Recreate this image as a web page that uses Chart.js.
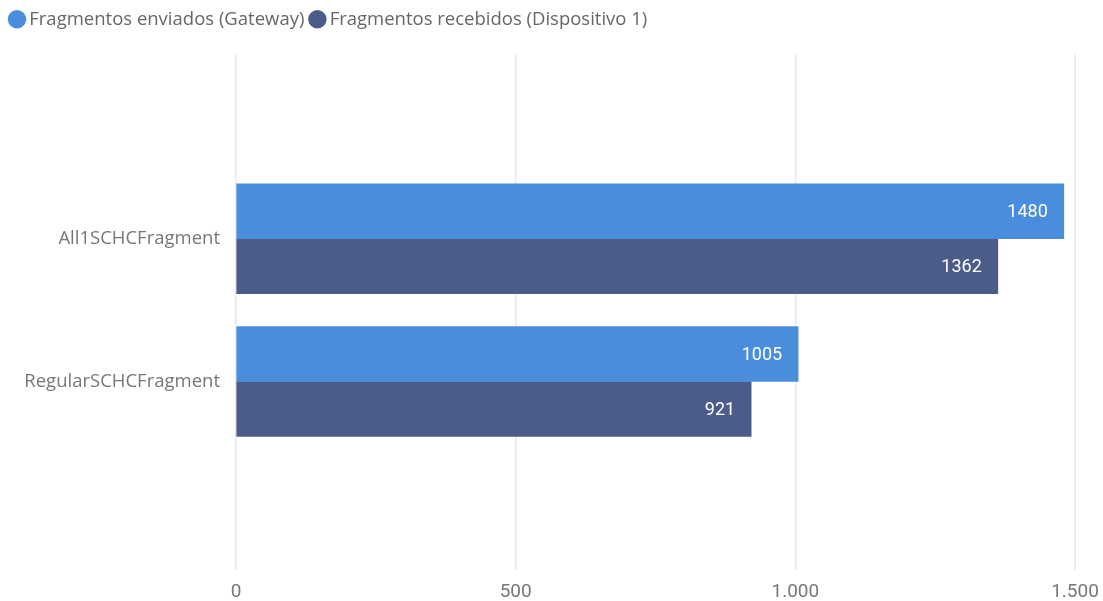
<!DOCTYPE html>
<html lang="pt">
<head>
    <meta charset="UTF-8">
    <title>Fragmentos SCHC</title>
    <script src="https://cdn.jsdelivr.net/npm/chart.js"></script>
    <style>
        html, body { margin: 0; padding: 0; background: #fff; }
        #wrap { width: 1103px; height: 601px; }
    </style>
</head>
<body>
    <div id="wrap"><canvas id="fragChart"></canvas></div>

    <script>
        // Data
        const categories = ['All1SCHCFragment', 'RegularSCHCFragment'];
        const seriesNames = ['Fragmentos enviados (Gateway)', 'Fragmentos recebidos (Dispositivo 1)'];
        const sentValues = [1480, 1005];
        const receivedValues = [1362, 921];
        const xTicks = [0, 500, 1000, 1500];

        const colors = ['#4A8DDC', '#4B5C88'];

        // thousands with a dot, like pt-BR
        function fmt(v) {
            return String(v).replace(/\B(?=(\d{3})+(?!\d))/g, '.');
        }

        // category index -> point on a linear index axis
        function toPoints(values) {
            return values.map((v, i) => ({ x: v, y: i }));
        }

        // push the plot down below the legend
        const legendGap = {
            id: 'legendGap',
            beforeInit(chart) {
                const origFit = chart.legend.fit;
                chart.legend.fit = function () {
                    origFit.bind(chart.legend)();
                    this.height += 16;
                };
            }
        };

        // white value labels at the end of each bar
        const barValues = {
            id: 'barValues',
            afterDatasetsDraw(chart) {
                const ctx = chart.ctx;
                ctx.save();
                ctx.fillStyle = '#ffffff';
                ctx.font = '18px Roboto';
                ctx.textAlign = 'right';
                ctx.textBaseline = 'middle';
                chart.data.datasets.forEach((ds, i) => {
                    chart.getDatasetMeta(i).data.forEach((bar, j) => {
                        ctx.fillText(ds.data[j].x, bar.x - 16, bar.y + 1);
                    });
                });
                ctx.restore();
            }
        };

        const ctx = document.getElementById('fragChart').getContext('2d');
        const fragChart = new Chart(ctx, {
            type: 'bar',
            data: {
                datasets: [{
                    label: seriesNames[0],
                    data: toPoints(sentValues),
                    backgroundColor: colors[0],
                    barThickness: 55
                }, {
                    label: seriesNames[1],
                    data: toPoints(receivedValues),
                    backgroundColor: colors[1],
                    barThickness: 55
                }]
            },
            options: {
                indexAxis: 'y',
                responsive: true,
                maintainAspectRatio: false,
                animation: false,
                layout: {
                    padding: { left: 4, right: 28, top: 0, bottom: 0 }
                },
                scales: {
                    x: {
                        type: 'linear',
                        min: 0,
                        max: 1500,
                        afterBuildTicks: (scale) => {
                            scale.ticks = xTicks.map(v => ({ value: v }));
                        },
                        afterFit: (scale) => {
                            scale.height = 31;
                            scale.paddingLeft = 0;
                            scale.paddingRight = 0;
                        },
                        grid: { color: '#e8e8e8', lineWidth: 1.5, drawTicks: false },
                        border: { display: false },
                        ticks: {
                            color: '#777777',
                            font: { family: 'Roboto', size: 19 },
                            padding: 11,
                            callback: (v) => fmt(v)
                        }
                    },
                    y: {
                        type: 'linear',
                        offset: false,
                        reverse: true,
                        min: -1.29,
                        max: 2.32,
                        afterBuildTicks: (scale) => {
                            scale.ticks = categories.map((c, i) => ({ value: i }));
                        },
                        afterFit: (scale) => { scale.width = 232; },
                        grid: { display: false, drawTicks: false, offset: false },
                        border: { display: false },
                        ticks: {
                            color: '#777777',
                            font: { family: 'Open Sans', size: 18.5 },
                            padding: 16,
                            callback: (v) => categories[v]
                        }
                    }
                },
                plugins: {
                    legend: {
                        position: 'top',
                        align: 'start',
                        labels: {
                            usePointStyle: true,
                            pointStyle: 'circle',
                            boxWidth: 6,
                            boxHeight: 13,
                            padding: 10,
                            color: '#666666',
                            font: { family: 'Open Sans', size: 18.5 }
                        }
                    },
                    tooltip: { enabled: false }
                }
            },
            plugins: [legendGap, barValues]
        });
    </script>
</body>
</html>
